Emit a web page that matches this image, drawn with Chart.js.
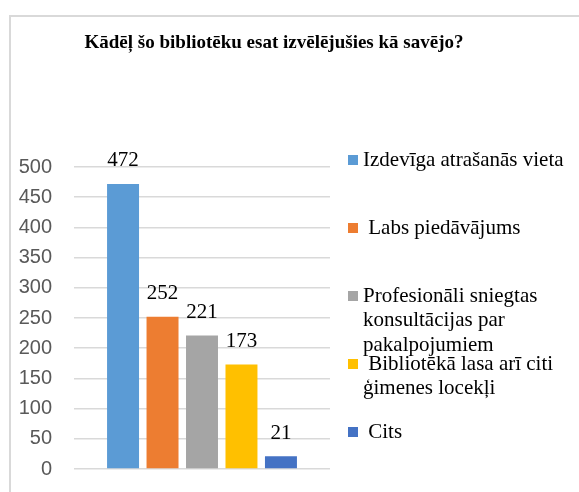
<!DOCTYPE html>
<html>
<head>
<meta charset="utf-8">
<script src="https://cdn.jsdelivr.net/npm/chart.js@4"></script>
<style>
    html, body { margin: 0; padding: 0; background: #fff; overflow: hidden; }
    #frame { position: absolute; left: 9px; top: 15px; width: 620px; height: 520px; border: 2px solid #d9d9d9; }
    #wrap { position: absolute; left: 0; top: 0; width: 579px; height: 492px; }
</style>
</head>
<body>
<div id="frame"></div>
<div id="wrap"><canvas id="chart" width="579" height="492"></canvas></div>
<script>
// Dati
const chartTitle = 'Kādēļ šo bibliotēku esat izvēlējušies kā savējo?';
const seriesNames = ['Izdevīga atrašanās vieta', 'Labs piedāvājums', 'Profesionāli sniegtas konsultācijas par pakalpojumiem', 'Bibliotēkā lasa arī citi ģimenes locekļi', 'Cits'];
const legendLines = [
    ['Izdevīga atrašanās vieta'],
    [' Labs piedāvājums'],
    ['Profesionāli sniegtas', 'konsultācijas par', 'pakalpojumiem'],
    [' Bibliotēkā lasa arī citi', 'ģimenes locekļi'],
    [' Cits']
];
const seriesValues = [472, 252, 221, 173, 21];
const seriesColors = ['#5b9bd5', '#ed7d31', '#a5a5a5', '#ffc000', '#4472c4'];
const yTicks = [0, 50, 100, 150, 200, 250, 300, 350, 400, 450, 500];

const extras = {
    id: 'extras',
    afterDatasetsDraw(chart) {
        const c = chart.ctx;
        c.save();
        // vērtības virs stabiņiem
        c.font = '21px "Liberation Serif", serif';
        c.fillStyle = '#000';
        c.textAlign = 'center';
        c.textBaseline = 'middle';
        chart.data.datasets.forEach((ds, i) => {
            const bar = chart.getDatasetMeta(i).data[0];
            c.fillText(String(ds.data[0]), bar.x, bar.y - 23);
        });
        // virsraksts
        c.font = 'bold 19px "Liberation Serif", serif';
        c.fillText(chartTitle, 274, 43);
        // leģenda
        c.textAlign = 'left';
        c.font = '21px "Liberation Serif", serif';
        legendLines.forEach((lines, i) => {
            const y = 160 + i * 68;
            c.fillStyle = seriesColors[i];
            c.fillRect(348, y - 5, 10, 10);
            c.fillStyle = '#000';
            lines.forEach((t, j) => c.fillText(t, 363, y + j * 24.5));
        });
        c.restore();
    }
};

new Chart(document.getElementById('chart'), {
    type: 'bar',
    data: {
        labels: [''],
        datasets: seriesNames.map((name, i) => ({
            label: name,
            data: [seriesValues[i]],
            backgroundColor: seriesColors[i],
            categoryPercentage: 0.771,
            barPercentage: 0.81
        }))
    },
    options: {
        responsive: false,
        animation: false,
        layout: { padding: { left: 0, right: 249, top: 167, bottom: 23 } },
        plugins: {
            legend: { display: false },
            title: { display: false },
            tooltip: { enabled: false }
        },
        scales: {
            x: { display: false },
            y: {
                min: 0,
                max: 500,
                afterFit: s => { s.width = 74; s.paddingTop = 0; s.paddingBottom = 0; },
                afterBuildTicks: s => { s.ticks = yTicks.map(v => ({ value: v })); },
                border: { display: false },
                grid: { color: '#d9d9d9', lineWidth: 1.5, drawTicks: false },
                ticks: {
                    padding: 22,
                    color: '#595959',
                    font: { family: '"Liberation Sans", sans-serif', size: 20 }
                }
            }
        }
    },
    plugins: [extras]
});
</script>
</body>
</html>
